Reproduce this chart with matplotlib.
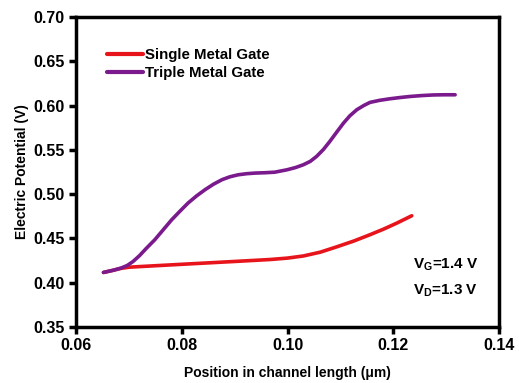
import matplotlib
matplotlib.use("Agg")
import matplotlib.pyplot as plt

plt.rcParams['font.family'] = ['Liberation Sans', 'DejaVu Sans']
plt.rcParams['font.weight'] = 'bold'
plt.rcParams['mathtext.fontset'] = 'custom'
plt.rcParams['mathtext.rm'] = 'Liberation Sans:bold'
plt.rcParams['mathtext.it'] = 'Liberation Sans:bold'
plt.rcParams['mathtext.bf'] = 'Liberation Sans:bold'

triple_x = [0.0652, 0.0670, 0.0685, 0.0697, 0.0708, 0.0720, 0.0733, 0.0749, 0.0765, 0.0781,
            0.0797, 0.0812, 0.0828, 0.0844, 0.0860, 0.0876, 0.0891, 0.0907, 0.0923,
            0.0939, 0.0958, 0.0976, 0.0999, 0.1015, 0.1030, 0.1043, 0.1055, 0.1068,
            0.1080, 0.1093, 0.1106, 0.1118, 0.1131, 0.1144, 0.1156, 0.1175, 0.1194,
            0.1213, 0.1232, 0.1254, 0.1276, 0.1297, 0.1317]
triple_y = [0.4116, 0.4140, 0.4165, 0.4195, 0.4240, 0.4305, 0.4388, 0.4485, 0.4598, 0.4711,
            0.4810, 0.4900, 0.4980, 0.5050, 0.5112, 0.5163, 0.5196, 0.5219, 0.5231,
            0.5238, 0.5242, 0.5248, 0.5275, 0.5300, 0.5332, 0.5370, 0.5426, 0.5505,
            0.5595, 0.5700, 0.5803, 0.5885, 0.5953, 0.6000, 0.6036, 0.6060, 0.6077,
            0.6091, 0.6103, 0.6113, 0.6120, 0.6122, 0.6122]

single_x = [0.0652, 0.0670, 0.0685, 0.0700, 0.0720, 0.0800, 0.0900, 0.0967, 0.1000,
            0.1030, 0.1062, 0.1093, 0.1125, 0.1156, 0.1182, 0.1207, 0.1235]
single_y = [0.4116, 0.4140, 0.4162, 0.4175, 0.4182, 0.4208, 0.4240, 0.4262, 0.4278,
            0.4302, 0.4345, 0.4405, 0.4470, 0.4542, 0.4606, 0.4674, 0.4756]

xticks = [0.06, 0.08, 0.10, 0.12, 0.14]
yticks = [0.35, 0.40, 0.45, 0.50, 0.55, 0.60, 0.65, 0.70]

fig = plt.figure(figsize=(5.19, 3.83), dpi=100)
ax = fig.add_axes([0.1464, 0.1462, 0.8151, 0.8094])

ax.plot(single_x, single_y, color='#e8141b', lw=2.6, label='Single Metal Gate',
        solid_capstyle='round', solid_joinstyle='round', zorder=2)
ax.plot(triple_x, triple_y, color='#7a1a8c', lw=2.6, label='Triple Metal Gate',
        solid_capstyle='round', solid_joinstyle='round', zorder=3)

ax.set_xlim(0.06, 0.14)
ax.set_ylim(0.35, 0.70)
ax.set_xticks(xticks)
ax.set_yticks(yticks)
ax.set_xticklabels([f"{v:.2f}" for v in xticks])
ax.set_yticklabels([f"{v:.2f}" for v in yticks])

for s in ax.spines.values():
    s.set_linewidth(2.5)
ax.tick_params(direction='out', length=5, width=2.5, labelsize=11.5, pad=3)
for lab in ax.get_xticklabels() + ax.get_yticklabels():
    lab.set_fontweight('bold')

ax.set_xlabel('Position in channel length (μm)', fontsize=10, fontweight='bold', labelpad=9)
ax.set_ylabel('Electric Potential (V)', fontsize=10, fontweight='bold', labelpad=3)

leg = ax.legend(loc='upper left', bbox_to_anchor=(0.058, 0.92), frameon=False,
                fontsize=10.8, handlelength=2.4, handletextpad=0.15, labelspacing=0.3,
                borderaxespad=0)
for t in leg.get_texts():
    t.set_fontweight('bold')
for l in leg.get_lines():
    l.set_linewidth(3)

ax.text(0.797, 0.2, r'V$_\mathregular{G}$=1.4 V', transform=ax.transAxes,
        fontsize=11, fontweight='bold', ha='left', va='center')
ax.text(0.797, 0.116, r'V$_\mathregular{D}$=1.3 V', transform=ax.transAxes,
        fontsize=11, fontweight='bold', ha='left', va='center')

fig.savefig('out.png', dpi=100)
